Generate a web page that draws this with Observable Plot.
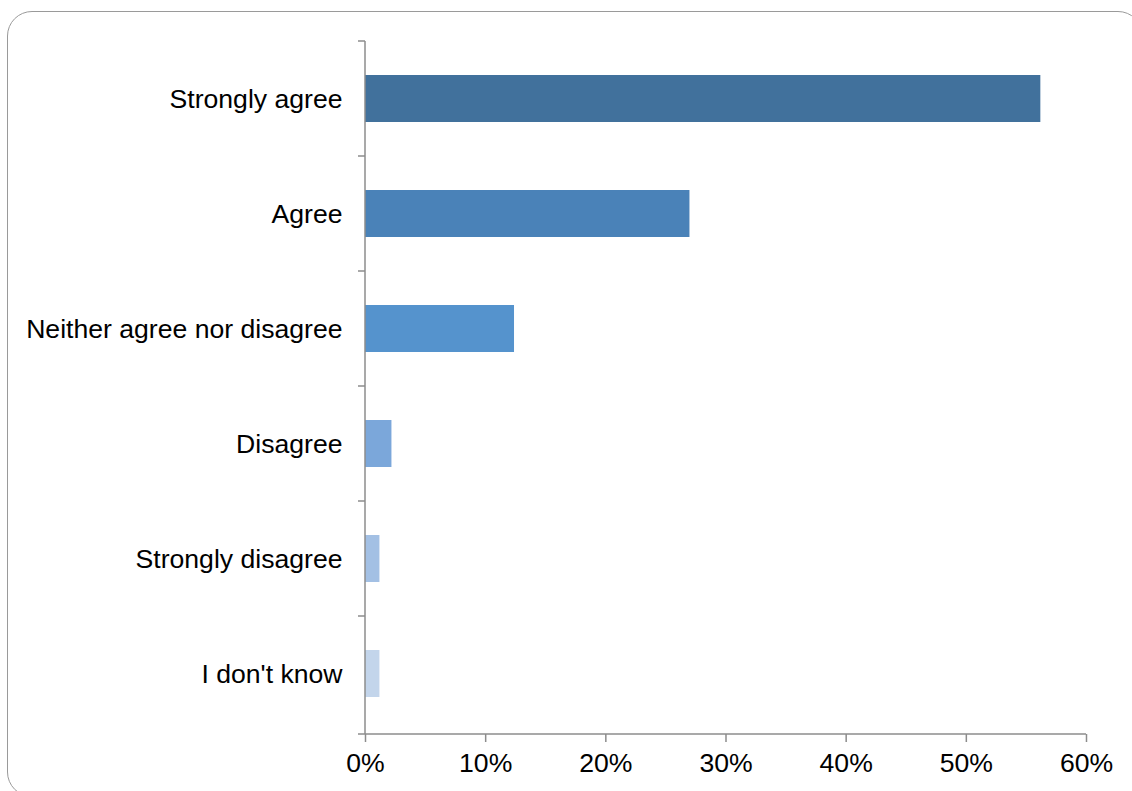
<!DOCTYPE html>
<html>
<head>
<meta charset="utf-8">
<script src="https://cdn.jsdelivr.net/npm/d3@7"></script>
<script src="https://cdn.jsdelivr.net/npm/@observablehq/plot@0.6"></script>
<style>
  html, body { margin: 0; padding: 0; background: white; overflow: hidden; }
  #wrap { position: relative; width: 1132px; height: 791px; }
  #border {
    position: absolute; left: 7px; top: 11px; width: 1136px; height: 786px;
    border: 1.5px solid #9a9a9a; border-radius: 25px; pointer-events: none; z-index: 2;
    box-sizing: border-box;
  }
  #chart svg { display: block; background: transparent; }
</style>
</head>
<body>
<div id="wrap">
  <div id="chart"></div>
  <div id="border"></div>
</div>
<script>
// Data
const categories = ["Strongly agree", "Agree", "Neither agree nor disagree", "Disagree", "Strongly disagree", "I don't know"];
const values = [0.562, 0.270, 0.124, 0.022, 0.012, 0.012];
const colors = ["#41719c", "#4a82b8", "#5593cd", "#7ba7da", "#a3c0e4", "#c3d5eb"];
const xTicks = [0, 0.1, 0.2, 0.3, 0.4, 0.5, 0.6];

const rows = categories.map((c, i) => ({category: c, value: values[i], color: colors[i]}));

const axisColor = "#8c8c8c";
const padInner = 0.59;

// Axis lines and category-boundary ticks (Excel style)
function axesRender(index, scales, vals, dims) {
  const y = scales.y, x = scales.x;
  const step = y(categories[1]) - y(categories[0]);
  const bw = typeof y.bandwidth === "function" ? y.bandwidth() : step * (1 - padInner);
  const off = (step - bw) / 2;
  const x0 = x(0);
  const x1 = x(xTicks[xTicks.length - 1]);
  const bottom = dims.height - dims.marginBottom;
  const bounds = categories.map(c => y(c) - off);
  const g = d3.create("svg:g")
    .attr("stroke", axisColor)
    .attr("stroke-width", 1.5)
    .attr("fill", "none");
  g.append("line").attr("x1", x0).attr("x2", x0).attr("y1", bounds[0]).attr("y2", bottom);
  g.append("line").attr("x1", x0 - 7).attr("x2", x1).attr("y1", bottom).attr("y2", bottom);
  for (const b of bounds) {
    g.append("line").attr("x1", x0 - 7).attr("x2", x0).attr("y1", b).attr("y2", b);
  }
  return g.node();
}

const plot = Plot.plot({
  width: 1132,
  height: 791,
  marginLeft: 365,
  marginRight: 46,
  marginTop: 39,
  marginBottom: 57,
  style: {fontFamily: "'Liberation Sans', Arial, sans-serif", fontSize: "26.6px", color: "black", background: "transparent"},
  x: {domain: [0, 0.6], ticks: xTicks, tickFormat: d3.format(".0%")},
  y: {domain: categories, paddingInner: padInner, paddingOuter: padInner / 2, align: 0.5},
  marks: [
    Plot.barX(rows, {x: "value", y: "category", fill: "color"}),
    Plot.axisX({ticks: xTicks, tickFormat: d3.format(".0%"), tickSize: 8, tickPadding: 11, stroke: axisColor, strokeWidth: 1.5, fill: "black", label: null, fontSize: 26.6}),
    Plot.axisY({tickSize: 0, tickPadding: 23, fill: "black", label: null, fontSize: 26.6}),
    axesRender
  ]
});
document.getElementById("chart").appendChild(plot);
</script>
</body>
</html>
